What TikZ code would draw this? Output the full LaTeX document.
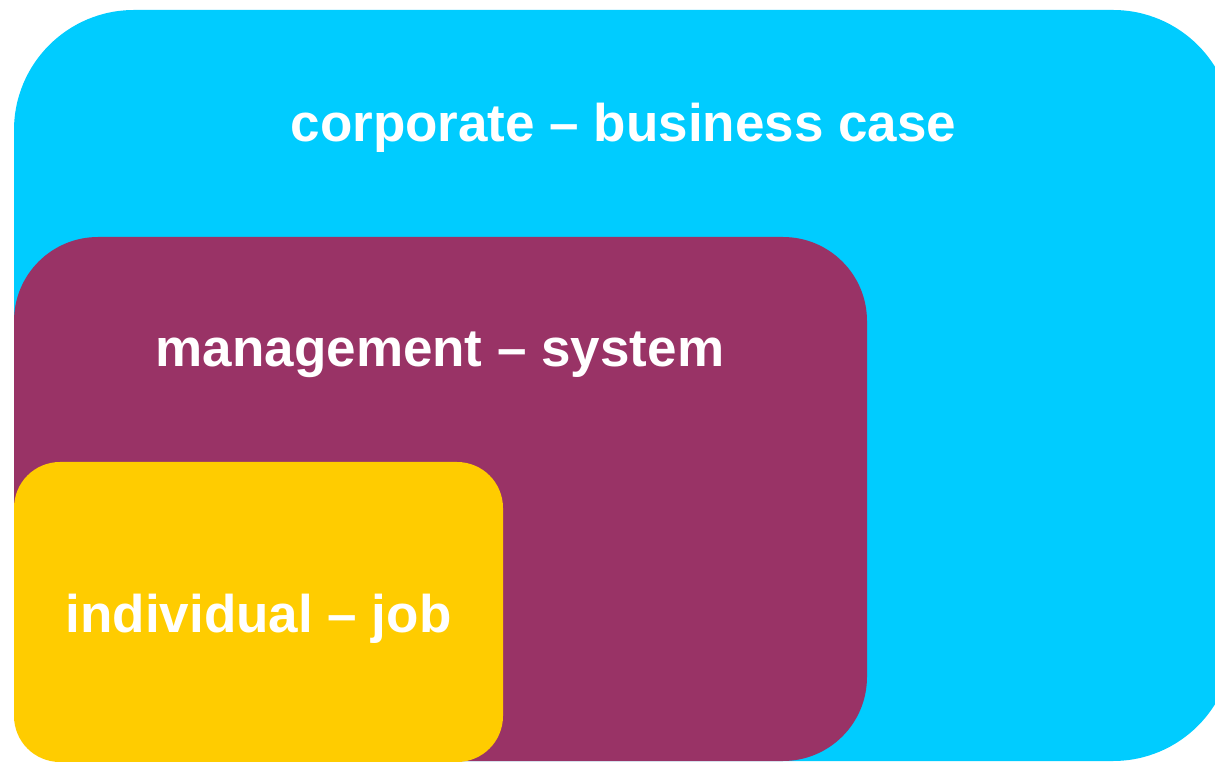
\documentclass[tikz,border=0pt]{standalone}
\usepackage{fontspec}
\setmainfont{Liberation Sans}
\definecolor{cblue}{HTML}{00CCFF}
\definecolor{cpurple}{HTML}{993366}
\definecolor{cyellow}{HTML}{FFCC00}
\begin{document}
\begin{tikzpicture}[x=1pt,y=1pt,
  lbl/.style={text=white,font=\bfseries\fontsize{53}{60}\selectfont,inner sep=0pt,anchor=base}]
\useasboundingbox (0,0) rectangle (1215,761);
\clip (0,0) rectangle (1215,761);
\fill[white] (0,0) rectangle (1215,761);
\fill[cblue,rounded corners=120pt] (14,0) rectangle (1233,751);
\fill[cpurple,rounded corners=84pt] (14,0) rectangle (867,524);
\fill[cyellow,rounded corners=46pt] (14,-1) rectangle (503,299);
\node[lbl] (corp) at (623.5,619) {corporate – business case};
\node[lbl] (mgmt) at (440,394) {management – system};
\node[lbl] (indiv) at (258.5,129) {individual – job};
\end{tikzpicture}
\end{document}
